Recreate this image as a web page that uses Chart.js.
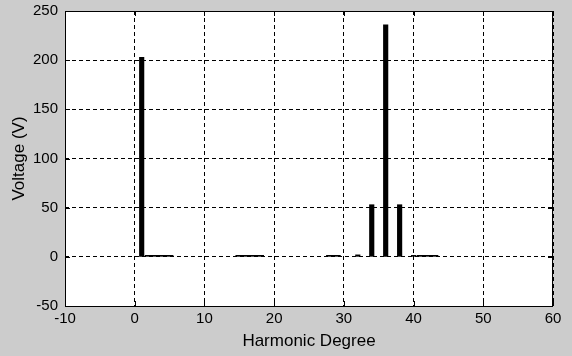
<!DOCTYPE html>
<html>
<head>
<meta charset="utf-8">
<script src="https://cdn.jsdelivr.net/npm/chart.js@4"></script>
<style>
  html, body { margin: 0; padding: 0; background: #cccccc; }
  canvas { display: block; }
</style>
</head>
<body>
<canvas id="chart" width="572" height="356"></canvas>
<script>
// main harmonic components
const harmonics = [1, 32, 34, 36, 38, 40];
const voltage = [203, 2, 53, 236, 53, 1.5];

// tiny residual components sitting on the zero line
const lowHarmonics = [2, 3, 4, 5, 15, 16, 17, 18, 28, 29, 41, 42, 43];
const lowVoltage = [0.6, 0.6, 0.6, 0.6, 0.6, 0.6, 0.6, 0.6, 0.6, 0.6, 0.6, 0.6, 0.6];

const xTicks = [-10, 0, 10, 20, 30, 40, 50, 60];
const yTicks = [-50, 0, 50, 100, 150, 200, 250];

const FONT = "'Liberation Sans', Arial, sans-serif";

const framePlugin = {
    id: 'frame',
    beforeDraw(chart) {
        const { ctx, chartArea: a } = chart;
        ctx.save();
        ctx.fillStyle = '#ffffff';
        ctx.fillRect(a.left, a.top, a.right - a.left, a.bottom - a.top);
        ctx.restore();
    },
    afterDraw(chart) {
        const { ctx, chartArea: a, scales } = chart;
        ctx.save();
        ctx.strokeStyle = '#000';
        ctx.lineWidth = 1;
        ctx.strokeRect(a.left + 0.5, a.top + 0.5, a.right - a.left - 1, a.bottom - a.top);
        // inside tick marks, like the original plot
        const len = 5;
        ctx.beginPath();
        scales.x.ticks.forEach(t => {
            const px = Math.round(scales.x.getPixelForValue(t.value)) + 0.5;
            ctx.moveTo(px, a.bottom); ctx.lineTo(px, a.bottom - len);
            ctx.moveTo(px, a.top); ctx.lineTo(px, a.top + len);
        });
        scales.y.ticks.forEach(t => {
            const py = Math.round(scales.y.getPixelForValue(t.value)) + 0.5;
            ctx.moveTo(a.left, py); ctx.lineTo(a.left + len, py);
            ctx.moveTo(a.right, py); ctx.lineTo(a.right - len, py);
        });
        ctx.stroke();
        ctx.restore();
    }
};

new Chart(document.getElementById('chart'), {
    type: 'bar',
    data: {
        datasets: [
            {
                label: 'Voltage',
                data: harmonics.map((h, i) => ({ x: h, y: voltage[i] })),
                backgroundColor: '#000',
                barThickness: 4.5,
                grouped: false
            },
            {
                label: 'Residual',
                data: lowHarmonics.map((h, i) => ({ x: h, y: lowVoltage[i] })),
                backgroundColor: '#000',
                barThickness: 7,
                minBarLength: 1.5,
                grouped: false
            }
        ]
    },
    options: {
        responsive: false,
        animation: false,
        devicePixelRatio: 1,
        layout: { padding: { left: 0, top: 0, right: 19, bottom: 0 } },
        plugins: {
            legend: { display: false },
            tooltip: { enabled: false }
        },
        scales: {
            x: {
                type: 'linear',
                min: -10,
                max: 60,
                offset: false,
                afterBuildTicks: s => { s.ticks = xTicks.map(v => ({ value: v })); },
                afterFit: s => { s.height = 50; },
                ticks: { color: '#000', padding: 4, font: { family: FONT, size: 15 }, maxRotation: 0 },
                grid: { color: '#000', lineWidth: 1, drawTicks: false, offset: false },
                border: { display: false, dash: [4, 3] },
                title: {
                    display: true,
                    text: 'Harmonic Degree',
                    color: '#000',
                    font: { family: FONT, size: 17 },
                    padding: { top: 0, bottom: 4 }
                }
            },
            y: {
                min: -50,
                max: 250,
                afterBuildTicks: s => { s.ticks = yTicks.map(v => ({ value: v })); },
                afterFit: s => {
                    s.width = 65;
                    s.paddingTop = 11;
                    s.paddingBottom = 0;
                },
                ticks: { color: '#000', padding: 7, font: { family: FONT, size: 15 } },
                grid: { color: '#000', lineWidth: 1, drawTicks: false },
                border: { display: false, dash: [4, 3] },
                title: {
                    display: true,
                    text: 'Voltage (V)',
                    color: '#000',
                    font: { family: FONT, size: 17 },
                    padding: { top: 9, bottom: 0 }
                }
            }
        }
    },
    plugins: [framePlugin]
});
</script>
</body>
</html>
